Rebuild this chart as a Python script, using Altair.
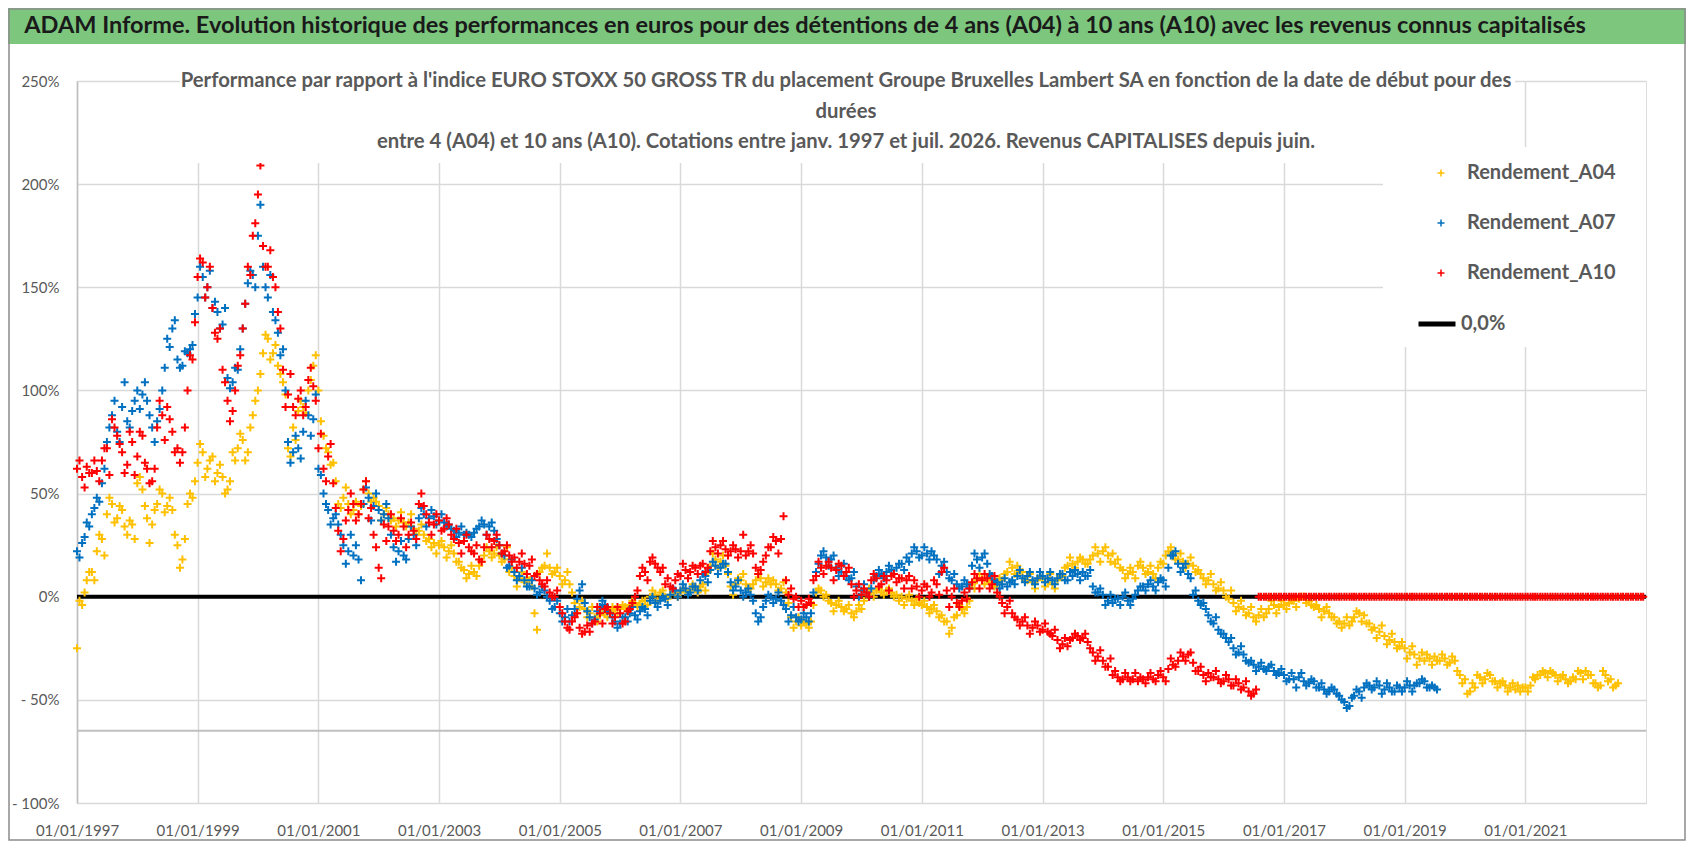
import altair as alt
import pandas as pd

# ---------------- data (readings at start and middle of each month, % vs index) -------------
SERIES = ["Rendement_A04", "Rendement_A07", "Rendement_A10"]
COLORS = ["#FFC000", "#0070C0", "#FF0000"]
START = "1997-01-01"

A04 = [
    -25, -4, 8, 12, 22, 28, 40, 45, 38, 42, 30, 35,          # 1997
    55, 52, 38, 35, 45, 50, 44, 42, 25, 18, 45, 48,           # 1998
    65, 70, 62, 68, 60, 58, 52, 70, 72, 76, 70, 88,           # 1999
    100, 118, 125, 118, 112, 104, 72, 82, 90, 92, 100, 112,   # 2000
    100, 78, 70, 65, 45, 48, 45, 42, 40, 52, 50, 48,          # 2001
    44, 40, 40, 38, 37, 36, 36, 33, 32, 30, 28, 26,           # 2002
    25, 24, 22, 21, 17, 13, 11, 12, 15, 20, 22, 21,           # 2003
    20, 18, 12, 10, 9, 7, 8, -8, 12, 15, 14, 12,              # 2004
    10, 8, 6, -3, -5, -6, -8, -10, -9, -8, -7, -6,            # 2005
    -6, -5, -4, -3, -4, -2, 0, 1, 2, 0, 1, 2,                 # 2006
    2, 3, 3, 4, 5, 3, 15, 18, 17, 15, 5, 6,                   # 2007
    8, 6, 4, 8, 9, 7, 6, 6, 4, 2, -10, -12,                   # 2008
    -14, -13, -12, 2, 3, 1, -3, -4, -5, -6, -8, -7,           # 2009
    -6, 1, 2, 3, 2, 3, 2, 1, 0, -1, -2, -1,                   # 2010
    -4, -5, -6, -7, -9, -12, -15, -9, -6, -5, 6, 8,           # 2011
    9, 8, 7, 6, 8, 12, 14, 15, 12, 8, 7, 8,                   # 2012
    9, 7, 6, 8, 10, 15, 16, 17, 18, 16, 20, 21,               # 2013
    22, 20, 21, 18, 13, 11, 12, 15, 14, 12, 11, 14,           # 2014
    16, 22, 21, 18, 17, 16, 15, 13, 9, 8, 6, 4,               # 2015
    3, -1, -3, -5, -6, -8, -10, -9, -10, -6, -4, -5,          # 2016
    -4, -3, -2, -1, 0, -2, -5, -6, -7, -8, -10, -12,          # 2017
    -13, -14, -10, -8, -9, -13, -15, -17, -19, -21, -22, -24, # 2018
    -25, -27, -28, -30, -31, -30, -29, -31, -30, -32, -31, -38,  # 2019
    -40, -46, -44, -39, -40, -38, -41, -42, -43, -44, -45, -46,  # 2020
    -44, -43, -40, -38, -37, -36, -38, -39, -40, -41, -40, -37,  # 2021
    -36, -38, -42, -43, -38, -40, -43,                            # 2022
]
A04_MID = [
    -2, 2, 12, 8, 30, 20, 48, 36, 44, 34, 37, 28,             # 1997
    58, 44, 26, 42, 52, 41, 48, 30, 14, 28, 50, 56,           # 1998
    74, 58, 66, 56, 64, 50, 56, 66, 79, 66, 82, 95,           # 1999
    108, 127, 115, 122, 108, 98, 68, 76, 95, 89, 105, 117,    # 2000
    85, 72, 64, 56, 43, 53, 40, 46, 44, 56, 46, 46,           # 2001
    37, 43, 37, 34, 41, 34, 40, 30, 35, 27, 24, 21,           # 2002
    27, 19, 25, 17, 14, 9, 15, 10, 17, 24, 19, 24,            # 2003
    17, 24, 14, 5, 12, 9, 5, -16, 14, 21, 11, 14,             # 2004
    6, 12, 2, -8, -2, -10, -5, -12, -6, -10, -5, -8,          # 2005
    -4, -7, -2, -5, -2, -4, 3, -2, 3, -1, 3, 0,               # 2006
    4, 1, 6, 2, 6, 12, 21, 14, 20, 11, 1, 9,                  # 2007
    11, 4, 6, 11, 5, 9, 8, 3, 7, -3, -15, -10,                # 2008
    -12, -15, -4, 4, 0, -2, -7, -2, -7, -4, -10, -4,          # 2009
    -2, 4, 0, 4, 1, 4, 0, -2, -4, 1, -4, -3,                  # 2010
    -2, -8, -4, -10, -12, -18, -10, -4, -8, -2, 4, 11,        # 2011
    6, 10, 5, 9, 11, 17, 11, 12, 8, 11, 4, 10,                # 2012
    5, 11, 4, 10, 14, 19, 14, 19, 16, 18, 24, 17,             # 2013
    24, 17, 16, 14, 9, 14, 9, 17, 11, 15, 9, 17,              # 2014
    20, 24, 18, 21, 14, 19, 12, 11, 6, 11, 3, 7,              # 2015
    0, 3, -7, -2, -9, -5, -12, -6, -8, -2, -8, -2,            # 2016
    -6, -2, -5, 0, -3, -4, -4, -10, -5, -10, -13, -15,        # 2017
    -10, -12, -7, -12, -13, -16, -20, -14, -23, -18, -25, -22,   # 2018
    -30, -24, -33, -27, -28, -33, -31, -28, -33, -29, -36, -42,  # 2019
    -47, -42, -38, -42, -37, -41, -44, -41, -46, -42, -43, -44,  # 2020
    -46, -39, -38, -36, -39, -37, -41, -38, -42, -39, -36, -40,  # 2021
    -38, -42, -44, -36, -41, -44, -42,                            # 2022
]

A07 = [
    22, 26, 36, 40, 48, 55, 75, 88, 80, 92, 85, 90,           # 1997
    100, 98, 95, 82, 85, 100, 125, 130, 115, 112, 118, 122,   # 1998
    145, 155, 150, 140, 138, 132, 106, 104, 110, 130, 152, 156,  # 1999
    175, 160, 145, 138, 128, 120, 75, 70, 72, 80, 88, 86,     # 2000
    62, 50, 42, 38, 35, 25, 22, 20, 18, 45, 48, 44,           # 2001
    42, 40, 38, 24, 22, 20, 28, 30, 38, 40, 38, 39,           # 2002
    37, 36, 35, 32, 31, 30, 30, 31, 34, 35, 34, 32,           # 2003
    25, 20, 15, 12, 10, 8, 5, 4, 2, 3, -2, -5,                # 2004
    -8, -10, -12, -6, 3, -3, -10, -11, -5, -4, -8, -12,       # 2005
    -13, -10, -8, -9, -7, -6, -2, -3, -2, -1, 1, 3,           # 2006
    3, 4, 2, 5, 8, 10, 13, 15, 14, 16, 7, 5,                  # 2007
    3, 2, 1, -8, -10, -2, 0, -1, -2, -6, -9, -10,             # 2008
    -11, -10, -8, 12, 20, 19, 18, 14, 12, 10, 9, 5,           # 2009
    3, 2, 4, 10, 11, 12, 13, 14, 16, 19, 21, 22,              # 2010
    20, 21, 22, 18, 15, 12, 8, 6, 5, 6, 15, 18,               # 2011
    19, 16, 10, 7, 6, 5, 8, 10, 9, 10, 8, 9,                  # 2012
    10, 9, 8, 9, 11, 8, 10, 11, 12, 10, 5, 2,                 # 2013
    1, -2, -3, -1, 0, -2, -1, 3, 5, 6, 5, 7,                  # 2014
    8, 14, 20, 16, 14, 11, 1, -2, -3, -9, -13, -16,           # 2015
    -18, -22, -25, -27, -28, -32, -33, -34, -35, -34, -36, -37,  # 2016
    -38, -40, -40, -39, -41, -42, -41, -44, -45, -46, -45, -48,  # 2017
    -51, -53, -48, -46, -44, -43, -44, -43, -45, -44, -46, -44,  # 2018
    -44, -43, -43, -42, -41, -44, -44,                            # 2019
]
A07_MID = [
    19, 29, 34, 43, 46, 62, 82, 95, 75, 104, 82, 95,          # 1997
    91, 104, 88, 75, 91, 111, 121, 134, 111, 119, 120, 137,   # 1998
    160, 145, 158, 143, 130, 140, 101, 111, 120, 142, 158, 150,  # 1999
    190, 150, 156, 134, 117, 100, 65, 78, 67, 95, 78, 98,     # 2000
    59, 45, 35, 40, 30, 16, 30, 25, 8, 53, 37, 50,            # 2001
    37, 45, 30, 17, 27, 18, 34, 25, 43, 34, 42, 35,           # 2002
    40, 34, 33, 29, 34, 31, 29, 33, 37, 30, 36, 28,           # 2003
    21, 14, 18, 8, 14, 5, 8, 1, 5, 0, -6, -2,                 # 2004
    -12, -6, -9, -1, 6, -7, -13, -7, -2, -7, -10, -15,        # 2005
    -10, -12, -5, -11, -5, -9, 0, -5, 0, -4, 4, 0,            # 2006
    6, 1, 5, 3, 11, 7, 17, 11, 16, 12, 3, 8,                  # 2007
    0, 4, -2, -12, -5, 1, -3, 2, -4, -12, -5, -12,            # 2008
    -8, -12, 2, 16, 22, 15, 20, 10, 16, 8, 12, 0,             # 2009
    6, 0, 8, 13, 9, 15, 11, 16, 13, 17, 24, 19,               # 2010
    24, 18, 20, 11, 17, 9, 11, 4, 8, 4, 21, 14,               # 2011
    21, 11, 8, 4, 9, 7, 6, 13, 7, 12, 6, 12,                  # 2012
    7, 12, 6, 11, 8, 12, 13, 8, 10, 13, 2, 4,                 # 2013
    -4, 1, -1, -4, 2, -4, 1, 5, 3, 8, 3, 9,                   # 2014
    5, 20, 22, 12, 16, 9, 3, -4, -6, -12, -10, -18,           # 2015
    -20, -20, -28, -24, -31, -31, -36, -32, -36, -33, -38, -35,  # 2016
    -41, -37, -44, -37, -43, -40, -44, -42, -47, -44, -47, -50,  # 2017
    -54, -49, -45, -49, -42, -45, -41, -47, -42, -46, -43, -46,  # 2018
    -41, -46, -42, -40, -44, -43, -45,                            # 2019
]

A10 = [
    62, 58, 63, 60, 61, 66, 72, 86, 78, 70, 64, 75,           # 1997
    68, 78, 62, 56, 82, 88, 92, 80, 72, 70, 100, 115,         # 1998
    155, 162, 150, 140, 125, 110, 95, 90, 112, 130, 160, 175, # 1999
    195, 170, 160, 155, 138, 110, 98, 92, 96, 88, 105, 102,   # 2000
    72, 62, 68, 55, 32, 28, 42, 45, 40, 52, 38, 30,           # 2001
    14, 35, 34, 32, 30, 34, 30, 32, 45, 44, 36, 35,           # 2002
    37, 33, 35, 28, 26, 27, 24, 21, 18, 24, 28, 27,           # 2003
    25, 22, 20, 19, 17, 16, 15, 10, 8, 5, 2, 0,               # 2004
    -5, -12, -16, -10, -15, -17, -17, -12, -8, -6, -8, -10,   # 2005
    -8, -12, -6, 0, 10, 12, 17, 16, 12, 6, 5, 8,              # 2006
    10, 13, 12, 14, 15, 12, 22, 24, 25, 23, 22, 23,           # 2007
    22, 20, 25, 14, 13, 20, 24, 27, 28, 8, 4, 0,              # 2008
    -2, -4, -3, 10, 14, 15, 14, 13, 15, 12, 6, 3,             # 2009
    1, 2, 8, 9, 6, 8, 10, 7, 9, 8, 4, 5,                      # 2010
    3, 5, 2, 6, 12, 3, 0, -3, -2, -1, 7, 9,                   # 2011
    8, 9, 6, 2, -3, -5, -8, -11, -12, -14, -15, -14,          # 2012
    -16, -17, -19, -21, -23, -24, -20, -19, -20, -22, -27, -29,  # 2013
    -31, -34, -38, -39, -40, -39, -40, -41, -40, -39, -40, -38,  # 2014
    -39, -35, -33, -31, -29, -28, -32, -36, -38, -37, -39, -40,  # 2015
    -41, -40, -43, -42, -44, -46, -47,                            # 2016
]
A10_MID = [
    66, 53, 60, 66, 56, 72, 59, 82, 74, 60, 80, 59,           # 1997
    80, 65, 55, 62, 95, 76, 86, 70, 65, 82, 117, 133,         # 1998
    164, 145, 160, 128, 130, 104, 85, 100, 117, 142, 156, 181,   # 1999
    209, 160, 168, 150, 130, 92, 108, 88, 100, 92, 111, 95,   # 2000
    79, 56, 74, 43, 22, 37, 50, 37, 45, 56, 43, 24,           # 2001
    9, 27, 40, 27, 38, 24, 36, 28, 50, 40, 30, 40,            # 2002
    32, 38, 30, 33, 21, 30, 22, 25, 17, 30, 24, 30,           # 2003
    21, 25, 17, 14, 21, 11, 18, 11, 6, 8, 0, 3,               # 2004
    -8, -15, -12, -8, -18, -14, -13, -5, -13, -5, -13, -5,    # 2005
    -13, -7, -3, 3, 14, 8, 19, 14, 14, 9, 4, 11,              # 2006
    16, 9, 15, 11, 16, 14, 27, 21, 27, 20, 25, 19,            # 2007
    30, 22, 21, 11, 17, 24, 29, 21, 39, 1, -1, -5,            # 2008
    -5, -1, 8, 17, 11, 17, 8, 16, 10, 14, 0, 6,               # 2009
    4, 0, 11, 5, 10, 3, 11, 9, 4, 10, 8, 0,                   # 2010
    6, 0, 8, 1, 14, -5, 4, -5, 2, 4, 11, 4,                   # 2011
    11, 4, 10, 0, -8, -2, -10, -14, -10, -18, -12, -17,       # 2012
    -13, -18, -16, -25, -20, -21, -18, -21, -18, -25, -31, -26,  # 2013
    -34, -30, -36, -41, -37, -41, -37, -39, -42, -37, -41, -36,  # 2014
    -41, -30, -34, -27, -31, -27, -36, -34, -41, -39, -36, -42,  # 2015
    -38, -43, -40, -45, -41, -48, -45,                            # 2016
]
A10_TAIL_START = "2016-08-01"
A10_TAIL_END = "2022-12-31"
A10_TAIL = [0] * 154          # A10 plotted at 0 % after its last value (twice a month)

ZERO_DATES = ["1997-01-01", "2023-01-01"]
ZERO_VALUES = [0, 0]
ZERO_LABEL = ["0,0%"]
AXIS_CROSS = [-65]

TICK_YEARS = list(range(1997, 2022, 2))
TICK_PCT = [-100, -50, 0, 50, 100, 150, 200, 250]

TITLE = ("ADAM Informe. Evolution historique des performances en euros pour des "
         "détentions de 4 ans (A04) à 10 ans (A10) avec les revenus connus capitalisés")
SUB1 = ("Performance par rapport à l'indice EURO STOXX 50 GROSS TR  du placement Groupe "
        "Bruxelles Lambert SA en fonction de la date de début pour des")
SUB2 = "durées"
SUB3 = ("entre 4 (A04) et 10 ans (A10).  Cotations entre janv. 1997 et juil. 2026. "
        "Revenus CAPITALISES depuis juin.")


def frame(values, name, start, mid=False):
    dates = pd.date_range(start, periods=len(values), freq="MS")
    if mid:
        dates = dates + pd.Timedelta(days=15)
    return pd.DataFrame({"date": dates, "pct": values, "series": name})


tail_dates = pd.date_range(A10_TAIL_START, A10_TAIL_END, freq="SMS")[:len(A10_TAIL)]
tail = pd.DataFrame({"date": tail_dates, "pct": A10_TAIL[:len(tail_dates)],
                     "series": SERIES[2]})

points = pd.concat([
    frame(A04, SERIES[0], START), frame(A04_MID, SERIES[0], START, True),
    frame(A07, SERIES[1], START), frame(A07_MID, SERIES[1], START, True),
    frame(A10, SERIES[2], START), frame(A10_MID, SERIES[2], START, True),
    tail,
], ignore_index=True)

zero_df = pd.DataFrame({"date": pd.to_datetime(ZERO_DATES), "pct": ZERO_VALUES,
                        "label": ZERO_LABEL * len(ZERO_VALUES)})
cross_df = pd.DataFrame({"pct": AXIS_CROSS})
one = pd.DataFrame({"k": [0]})

# ---------------- styling ----------------
FONT = "Lato, Liberation Sans, sans-serif"
GRAY = "#595959"
W, H = 1569, 722
PLUS = "M-1,0H1M0,-1V1"

x_scale = alt.Scale(domain=[alt.DateTime(year=1997, month=1, date=1),
                            alt.DateTime(year=2023, month=1, date=1)])
y_scale = alt.Scale(domain=[-100, 250], nice=False)

x_axis = alt.Axis(values=[alt.DateTime(year=y, month=1, date=1) for y in TICK_YEARS],
                  format="%d/%m/%Y", labelAngle=0, ticks=False, domain=False,
                  labelFlush=False, labelOverlap=False,
                  grid=True, gridColor="#D9D9D9", gridWidth=1.5,
                  labelFont=FONT, labelFontSize=15, labelColor=GRAY, labelPadding=20,
                  title=None)
y_axis = alt.Axis(values=TICK_PCT, ticks=False, domain=True, domainColor="#BFBFBF",
                  domainWidth=1.5, grid=True, gridColor="#D9D9D9", gridWidth=1.5,
                  labelExpr="datum.value < 0 ? '- ' + abs(datum.value) + '%' : datum.value + '%'",
                  labelFont=FONT, labelFontSize=15, labelColor=GRAY, labelPadding=18,
                  title=None)

cross_rule = alt.Chart(cross_df).mark_rule(color="#BFBFBF", strokeWidth=2).encode(
    y=alt.Y("pct:Q", scale=y_scale, axis=y_axis))

zero_line = alt.Chart(zero_df).mark_line(strokeWidth=4).encode(
    x=alt.X("date:T", scale=x_scale, axis=x_axis),
    y=alt.Y("pct:Q", scale=y_scale),
    color=alt.Color("label:N", scale=alt.Scale(domain=ZERO_LABEL, range=["#000000"]),
                    legend=alt.Legend(title=None, orient="none", legendX=1339, legendY=222,
                                      symbolType="stroke", symbolSize=1369,
                                      symbolStrokeWidth=5, labelOffset=3,
                                      labelFont=FONT, labelFontSize=20, labelLimit=400,
                                      labelFontWeight="bold", labelColor=GRAY,
                                      padding=0)))

scatter = alt.Chart(points).mark_point(shape=PLUS, filled=False, size=64,
                                       strokeWidth=2, opacity=1).encode(
    x=alt.X("date:T", scale=x_scale),
    y=alt.Y("pct:Q", scale=y_scale),
    color=alt.Color("series:N", scale=alt.Scale(domain=SERIES, range=COLORS),
                    legend=alt.Legend(title=None, orient="none", legendX=1354, legendY=82,
                                      symbolType=PLUS, symbolSize=49,
                                      symbolStrokeWidth=1.5, labelOffset=16,
                                      rowPadding=30, labelFont=FONT, labelFontSize=20,
                                      labelLimit=400,
                                      labelFontWeight="bold", labelColor=GRAY,
                                      padding=0)))

def box(x1, x2, y1, y2, fill, stroke=None):
    kw = dict(fill=fill)
    if stroke:
        kw.update(stroke=stroke, strokeWidth=1.5)
    return alt.Chart(one).mark_rect(**kw).encode(
        x=alt.value(x1), x2=alt.value(x2), y=alt.value(y1), y2=alt.value(y2))

def label(txt, x, y, size, color, weight="bold"):
    return alt.Chart(one).mark_text(text=txt, font=FONT, fontSize=size, fontWeight=weight,
                                    color=color, align="center", baseline="middle").encode(
        x=alt.value(x), y=alt.value(y))

chart = alt.layer(
    cross_rule,
    zero_line,
    scatter,
    box(103, 1438, -13, 82, "#FFFFFF"),
    box(1306, 1569, 66, 266, "#FFFFFF"),
    box(-69, 1609, -73, -37, "#7CC67E"),
    label(TITLE, 728, -55, 23.5, "#1A1A1A"),
    label(SUB1, 769, 0, 20.3, GRAY),
    label(SUB2, 769, 31, 20.3, GRAY),
    label(SUB3, 769, 61, 20.3, GRAY),
    box(-68, 1608, -72, 759, "transparent", "#8C8C8C"),
).resolve_scale(color="independent").resolve_legend(color="independent").properties(
    width=W, height=H,
    autosize=alt.AutoSizeParams(type="none"),
    padding={"left": 69, "top": 73, "right": 40, "bottom": 38},
).configure_view(strokeWidth=0).configure(background="#FFFFFF")

chart.save("out.html", embed_options={"renderer": "svg", "actions": False})
